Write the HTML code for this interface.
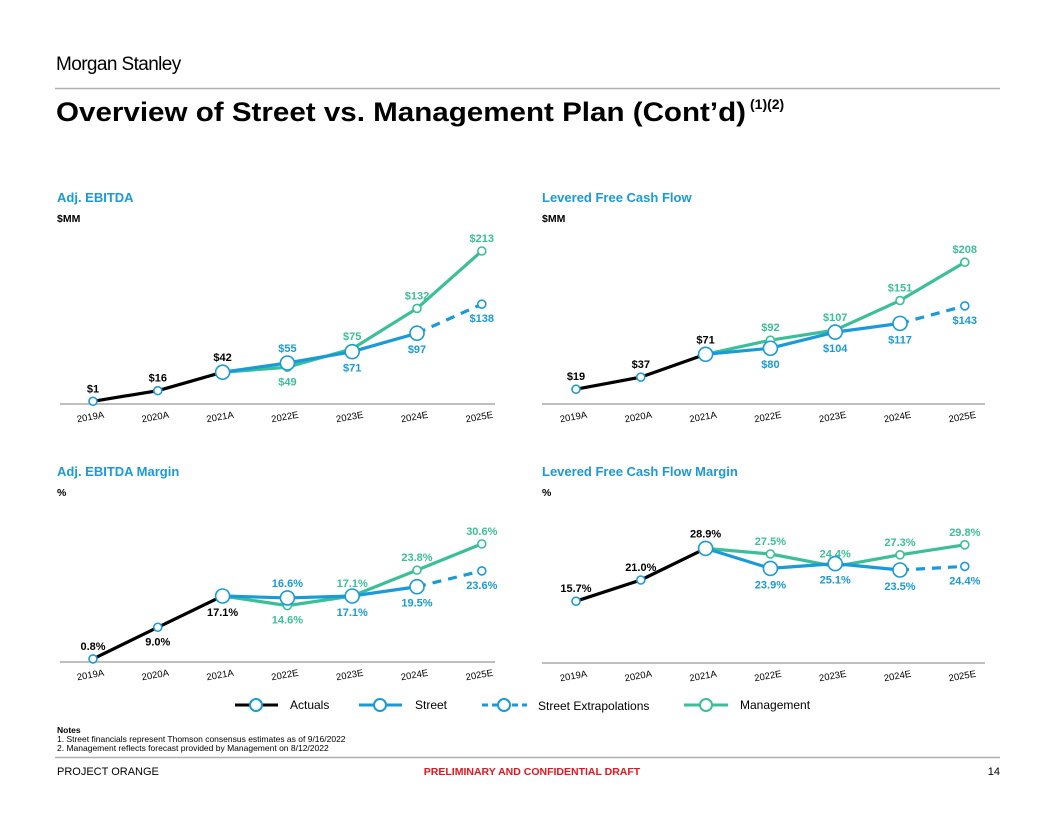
<!DOCTYPE html>
<html><head><meta charset="utf-8">
<style>
body{margin:0;background:#fff;font-family:"Liberation Sans",Arial,sans-serif;}
#wrap{position:relative;width:1056px;height:816px;overflow:hidden;}
svg text{font-family:"Liberation Sans",Arial,sans-serif;}
</style></head>
<body>
<div id="wrap">
<svg id="svg" width="1056" height="816" viewBox="0 0 1056 816" xmlns="http://www.w3.org/2000/svg">
  <text x="56" y="70" font-size="19" fill="#000" letter-spacing="-0.6">Morgan Stanley</text>
  <line x1="55" y1="88.5" x2="1000" y2="88.5" stroke="#b0b0b0" stroke-width="1.5"/>
  <text x="56" y="121" font-size="26.5" font-weight="bold" fill="#000" textLength="690" lengthAdjust="spacingAndGlyphs">Overview of Street vs. Management Plan (Cont’d)</text>
  <text x="750" y="109" font-size="14" font-weight="bold" fill="#000">(1)(2)</text>
  <g id="charts"></g>
  <g>
    <g>
      <line x1="235" y1="705" x2="278" y2="705" stroke="#000" stroke-width="3"/>
      <circle cx="256" cy="705" r="6" fill="#fff" stroke="#1a9ad6" stroke-width="2"/>
      <text x="290" y="709" font-size="12" fill="#000">Actuals</text>
    </g>
    <g>
      <line x1="359" y1="705" x2="402" y2="705" stroke="#1a9ad6" stroke-width="3"/>
      <circle cx="380" cy="705" r="6" fill="#fff" stroke="#1a9ad6" stroke-width="2"/>
      <text x="415" y="709" font-size="12" fill="#000">Street</text>
    </g>
    <g>
      <line x1="482" y1="705" x2="527" y2="705" stroke="#1a9ad6" stroke-width="3" stroke-dasharray="6,4"/>
      <circle cx="504" cy="705" r="6" fill="#fff" stroke="#1a9ad6" stroke-width="2"/>
      <text x="538" y="710" font-size="12" fill="#000">Street Extrapolations</text>
    </g>
    <g>
      <line x1="684" y1="705" x2="728" y2="705" stroke="#3cbf98" stroke-width="3"/>
      <circle cx="706" cy="705" r="6" fill="#fff" stroke="#3cbf98" stroke-width="2"/>
      <text x="740" y="709" font-size="12" fill="#000">Management</text>
    </g>
  </g>
  <g font-size="8.5" fill="#000">
    <text x="57" y="733" font-weight="bold">Notes</text>
    <text x="57" y="742">1.  Street financials represent Thomson consensus estimates as of 9/16/2022</text>
    <text x="57" y="751">2.  Management reflects forecast provided by Management on 8/12/2022</text>
  </g>
  <line x1="55" y1="757.5" x2="1000" y2="757.5" stroke="#b0b0b0" stroke-width="1.5"/>
  <text x="57" y="775" font-size="11" fill="#000">PROJECT ORANGE</text>
  <text x="532" y="775" font-size="10.5" font-weight="bold" fill="#e8141e" text-anchor="middle">PRELIMINARY AND CONFIDENTIAL DRAFT</text>
  <text x="1000" y="775" font-size="11" fill="#000" text-anchor="end">14</text>
</svg>
</div>
<script>
const categories = ["2019A","2020A","2021A","2022E","2023E","2024E","2025E"];

// Adj. EBITDA ($MM)
const ebitdaActuals = [1,16,42];
const ebitdaStreet = [55,71,97];
const ebitdaStreetExtrap = [138];
const ebitdaMgmt = [49,75,132,213];

// Levered FCF ($MM)
const lfcfActuals = [19,37,71];
const lfcfStreet = [80,104,117];
const lfcfStreetExtrap = [143];
const lfcfMgmt = [92,107,151,208];

// Adj. EBITDA Margin (%)
const ebitdaMarginActuals = [0.8,9.0,17.1];
const ebitdaMarginStreet = [16.6,17.1,19.5];
const ebitdaMarginStreetExtrap = [23.6];
const ebitdaMarginMgmt = [14.6,17.1,23.8,30.6];

// Levered FCF Margin (%)
const lfcfMarginActuals = [15.7,21.0,28.9];
const lfcfMarginStreet = [23.9,25.1,23.5];
const lfcfMarginStreetExtrap = [24.4];
const lfcfMarginMgmt = [27.5,24.4,27.3,29.8];

const NS="http://www.w3.org/2000/svg";
const root=document.getElementById('charts');
const BLUE="#1a9ad6", GREEN="#3cbf98";
function mk(tag,attrs,parent){const e=document.createElementNS(NS,tag);for(const k in attrs)e.setAttribute(k,attrs[k]);parent.appendChild(e);return e;}

const charts=[
 {name:"adj-ebitda",title:"Adj. EBITDA",unit:"$MM",x0:93,tx:57,ty:198,axisY:404,base:402,scale:151/213,
  a:ebitdaActuals,s:ebitdaStreet,e:ebitdaStreetExtrap,m:ebitdaMgmt,fmt:v=>"$"+v,
  sPos:["a","b","b"],ePos:["b"],mPos:["b","a","a","a"],xl:60,xr:495},
 {name:"levered-fcf",title:"Levered Free Cash Flow",unit:"$MM",x0:576,tx:542,ty:198,axisY:404,base:402,scale:0.672,
  a:lfcfActuals,s:lfcfStreet,e:lfcfStreetExtrap,m:lfcfMgmt,fmt:v=>"$"+v,
  sPos:["b","b","b"],ePos:["b"],mPos:["a","a","a","a"],xl:542,xr:985},
 {name:"adj-ebitda-margin",title:"Adj. EBITDA Margin",unit:"%",x0:93,tx:57,ty:472,axisY:662,base:662,scale:3.86,
  a:ebitdaMarginActuals,s:ebitdaMarginStreet,e:ebitdaMarginStreetExtrap,m:ebitdaMarginMgmt,fmt:v=>v.toFixed(1)+"%",
  sPos:["a","b","b"],ePos:["b"],mPos:["b","a","a","a"],aPos:["a","b","b"],xl:60,xr:495},
 {name:"levered-fcf-margin",title:"Levered Free Cash Flow Margin",unit:"%",x0:576,tx:542,ty:472,axisY:663,base:664,scale:4.0,
  a:lfcfMarginActuals,s:lfcfMarginStreet,e:lfcfMarginStreetExtrap,m:lfcfMarginMgmt,fmt:v=>v.toFixed(1)+"%",
  sPos:["b","b","b"],ePos:["b"],mPos:["a","a","a","a"],xl:542,xr:985}
];

charts.forEach(c=>{
  const g=mk('g',{},root);
  
  
  const X=i=>c.x0+i*64.8;
  const Y=v=>c.base-v*c.scale;
  const t=mk('text',{x:c.tx,y:c.ty+4,'font-size':13,'font-weight':'bold',fill:BLUE},g);t.textContent=c.title;
  
  
  const u=mk('text',{x:c.tx,y:c.ty+24,'font-size':10.5,'font-weight':'bold',fill:'#000'},g);u.textContent=c.unit;
  
  
  const ax=mk('line',{x1:c.xl,x2:c.xr,y1:c.axisY,y2:c.axisY,stroke:'#aaa','stroke-width':1.5},g);
  
  
  categories.forEach((cat,i)=>{
    const tx=X(i)-2, ty=c.axisY+16;
    const tl=mk('text',{x:tx,y:ty,'font-size':9.5,fill:'#000','text-anchor':'middle',transform:`rotate(-10 ${tx} ${ty})`},g);
    tl.textContent=cat;
    
    
  });
  const ai=c.a.length-1;
  const path=(pts,col,dash,nm)=>{
    const p=mk('polyline',{points:pts.map(q=>q.join(',')).join(' '),fill:'none',stroke:col,'stroke-width':3.2,'stroke-linejoin':'round'},g);
    if(dash)p.setAttribute('stroke-dasharray','9,7');
    
    
  };
  const mPts=[[X(ai),Y(c.a[ai])]].concat(c.m.map((v,k)=>[X(ai+1+k),Y(v)]));
  path(mPts,GREEN,false,c.name+'-management-line');
  path(c.a.map((v,i)=>[X(i),Y(v)]),'#000',false,c.name+'-actuals-line');
  const sPts=[[X(ai),Y(c.a[ai])]].concat(c.s.map((v,k)=>[X(ai+1+k),Y(v)]));
  path(sPts,BLUE,false,c.name+'-street-line');
  const si=ai+c.s.length;
  const ePts=[[X(si),Y(c.s[c.s.length-1])]].concat(c.e.map((v,k)=>[X(si+1+k),Y(v)]));
  path(ePts,BLUE,true,c.name+'-street-extrapolation-line');
  const pt=(x,y,r,col,nm)=>{const ci=mk('circle',{cx:x,cy:y,r:r,fill:'#fff',stroke:col,'stroke-width':1.6},g);
    
    };
  const lab=(x,y,txt,col,pos,big,nm)=>{const off=big?11:9;
    const ly=pos==="a"?y-off:y+off+9;
    const l=mk('text',{x:x,y:ly,'font-size':11,'font-weight':'bold',fill:col,'text-anchor':'middle'},g);l.textContent=txt;
    
    };
  c.m.forEach((v,k)=>{pt(X(ai+1+k),Y(v),4,GREEN,c.name+'-management-point');lab(X(ai+1+k),Y(v),c.fmt(v),GREEN,c.mPos[k],false,c.name+'-management-label');});
  c.a.forEach((v,i)=>{const big=i===ai;pt(X(i),Y(v),big?7:4,BLUE,c.name+'-actuals-point');
    lab(X(i),Y(v),c.fmt(v),'#000',c.aPos?c.aPos[i]:"a",big,c.name+'-actuals-label');});
  c.s.forEach((v,k)=>{pt(X(ai+1+k),Y(v),7,BLUE,c.name+'-street-point');lab(X(ai+1+k),Y(v),c.fmt(v),BLUE,c.sPos[k],true,c.name+'-street-label');});
  c.e.forEach((v,k)=>{pt(X(si+1+k),Y(v),4,BLUE,c.name+'-extrapolation-point');lab(X(si+1+k),Y(v),c.fmt(v),BLUE,c.ePos[k],false,c.name+'-extrapolation-label');});
});
</script>
</body></html>
